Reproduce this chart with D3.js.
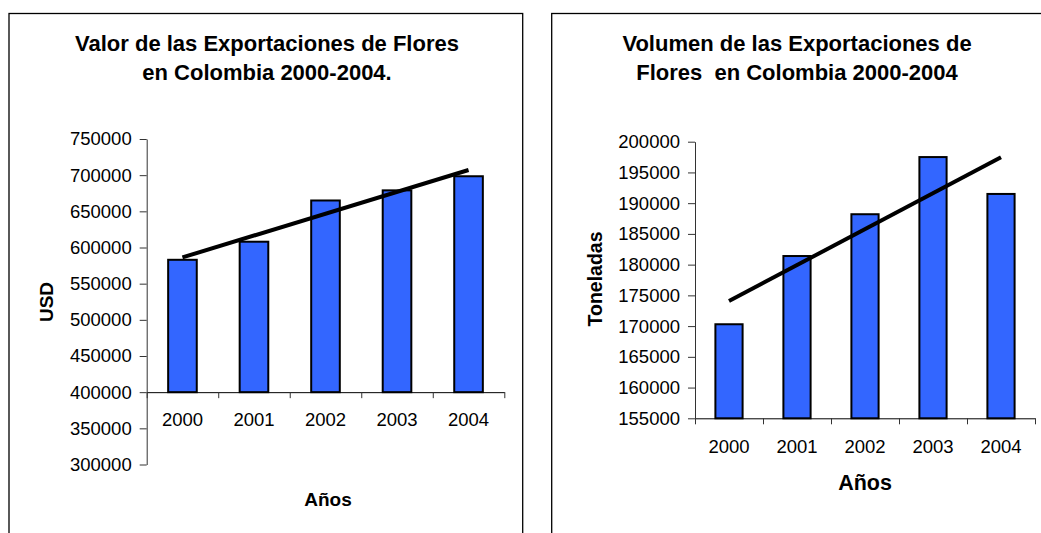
<!DOCTYPE html>
<html>
<head>
<meta charset="utf-8">
<script src="https://cdn.jsdelivr.net/npm/d3@7"></script>
<style>
  body { margin: 0; background: #fff; }
  svg { display: block; font-family: "Liberation Sans", Arial, sans-serif; }
</style>
</head>
<body>
<svg id="chart"></svg>
<script>
const years = ["2000", "2001", "2002", "2003", "2004"];
const valorUSD = [583000, 608000, 665000, 679000, 698500];
const volumenTon = [170300, 181400, 188200, 197500, 191500];
const usdTicks = [300000, 350000, 400000, 450000, 500000, 550000, 600000, 650000, 700000, 750000];
const tonTicks = [155000, 160000, 165000, 170000, 175000, 180000, 185000, 190000, 195000, 200000];

const W = 1041, H = 533;
const svg = d3.select("#chart").attr("width", W).attr("height", H);
svg.append("rect").attr("width", W).attr("height", H).attr("fill", "#fff");

// least squares line like the excel trendline
function trend(vals) {
  const n = vals.length;
  const mx = d3.mean(vals, (_, i) => i);
  const my = d3.mean(vals);
  let num = 0, den = 0;
  vals.forEach((v, i) => { num += (i - mx) * (v - my); den += (i - mx) ** 2; });
  const b = num / den;
  return [my - b * mx, my + b * (n - 1 - mx)];
}

function panel(o) {
  const g = svg.append("g");

  g.append("rect")
    .attr("x", o.box[0]).attr("y", o.box[1])
    .attr("width", o.box[2]).attr("height", o.box[3])
    .attr("fill", "none").attr("stroke", "#000").attr("stroke-width", 1.3);

  const x = d3.scaleBand().domain(years).range([o.x0, o.x1])
    .paddingInner(0.6).paddingOuter(0.3);
  const y = d3.scaleLinear().domain(o.domain).range([o.yBot, o.yTop]);
  const yBase = y(o.base);

  // y axis
  const ya = g.append("g").attr("transform", `translate(${o.x0},0)`)
    .call(d3.axisLeft(y).tickValues(o.ticks).tickSize(7).tickSizeOuter(0)
      .tickPadding(8).tickFormat(d3.format("d")));
  ya.select(".domain").attr("stroke", "#333");
  ya.selectAll(".tick line").attr("stroke", "#333");
  ya.selectAll("text").attr("font-size", 18.5).attr("fill", "#000")
    .attr("font-family", "Liberation Sans, Arial, sans-serif");

  // bars
  g.selectAll("rect.bar").data(o.values).enter().append("rect")
    .attr("class", "bar")
    .attr("x", (d, i) => x(years[i]))
    .attr("width", x.bandwidth())
    .attr("y", d => y(d))
    .attr("height", d => yBase - y(d))
    .attr("fill", "#3366FF")
    .attr("stroke", "#000").attr("stroke-width", 2);

  // x axis with ticks between categories
  const xb = d3.scaleLinear().domain([0, years.length]).range([o.x0, o.x1]);
  const xa = g.append("g").attr("transform", `translate(0,${yBase})`)
    .call(d3.axisBottom(xb).tickValues(d3.range(years.length + 1))
      .tickSize(6).tickSizeOuter(0).tickFormat(""));
  xa.select(".domain").attr("stroke", "#000");
  xa.selectAll(".tick line").attr("stroke", "#333");

  const xl = g.append("g").attr("transform", `translate(0,${yBase})`)
    .call(d3.axisBottom(x).tickSize(0).tickPadding(o.xPad));
  xl.select(".domain").remove();
  xl.selectAll("text").attr("font-size", 18.5).attr("fill", "#000")
    .attr("font-family", "Liberation Sans, Arial, sans-serif");

  // trend line
  const t = trend(o.values);
  const cx = i => x(years[i]) + x.bandwidth() / 2;
  g.append("line")
    .attr("x1", cx(0)).attr("y1", y(t[0]))
    .attr("x2", cx(years.length - 1)).attr("y2", y(t[1]))
    .attr("stroke", "#000").attr("stroke-width", 4);

  // title
  const tt = g.append("text").attr("text-anchor", "middle")
    .attr("font-weight", "bold").attr("font-size", 22).attr("xml:space", "preserve");
  o.title.forEach((s, i) => {
    tt.append("tspan").attr("x", o.titleX).attr("y", 51 + i * 29).text(s);
  });

  g.append("text")
    .attr("transform", `translate(${o.yLab[0]},${o.yLab[1]}) rotate(-90)`)
    .attr("dy", "0.35em").attr("text-anchor", "middle")
    .attr("font-weight", "bold").attr("font-size", o.yLab[2])
    .text(o.yTitle);

  g.append("text")
    .attr("x", o.xLab[0]).attr("y", o.xLab[1])
    .attr("text-anchor", "middle")
    .attr("font-weight", "bold").attr("font-size", o.xLab[2])
    .text("Años");
}

panel({
  box: [9, 13.5, 513.7, 540],
  x0: 146.7, x1: 504.3, yTop: 139, yBot: 464.5,
  domain: [300000, 750000], base: 400000, ticks: usdTicks,
  values: valorUSD, xPad: 21,
  title: ["Valor de las Exportaciones de Flores", "en Colombia 2000-2004."],
  titleX: 267,
  yTitle: "USD", yLab: [46.5, 302, 19],
  xLab: [328, 506, 19]
});

panel({
  box: [551.7, 13.5, 520, 540],
  x0: 695, x1: 1035, yTop: 141.7, yBot: 418.3,
  domain: [155000, 200000], base: 155000, ticks: tonTicks,
  values: volumenTon, xPad: 22,
  title: ["Volumen de las Exportaciones de", "Flores  en Colombia 2000-2004"],
  titleX: 797,
  yTitle: "Toneladas", yLab: [595, 279, 19.5],
  xLab: [865, 490, 21.5]
});
</script>
</body>
</html>
